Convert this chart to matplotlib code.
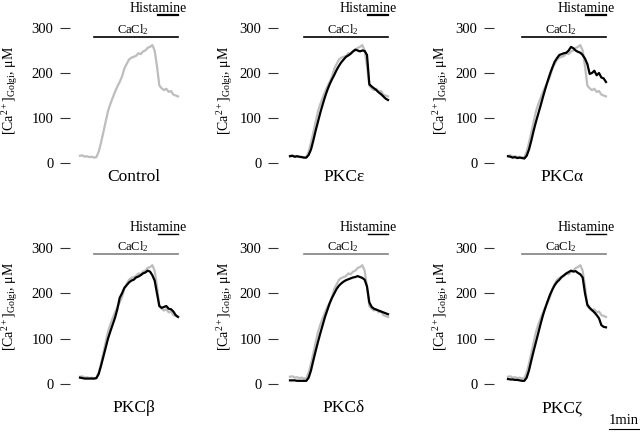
import numpy as np
import matplotlib
matplotlib.use('Agg')
import matplotlib.pyplot as plt

plt.rcParams['font.family'] = ['Liberation Serif', 'DejaVu Serif']
plt.rcParams['mathtext.fontset'] = 'custom'
plt.rcParams['mathtext.rm'] = 'Liberation Serif'
plt.rcParams['mathtext.it'] = 'Liberation Serif:italic'

# time in seconds, one sample every 5 s
t = np.arange(0, 215, 5)

# control trace (grey), same in every panel
control = [16, 17, 14, 15, 13, 14, 12, 13, 25, 45, 68, 92, 115, 131, 145, 158, 170, 180,
           192, 210, 220, 230, 234, 236, 238, 244, 242, 248, 250, 256, 258, 262, 250, 215,
           172, 166, 162, 165, 158, 160, 152, 150, 148]

titles = ['Control', 'PKCε', 'PKCα', 'PKCβ', 'PKCδ', 'PKCζ']

pkc_e = [15, 16, 14, 15, 14, 13, 12, 12, 18, 30, 50, 72, 92, 112, 130, 147, 162, 175, 186,
         196, 207, 216, 224, 230, 236, 239, 243, 248, 252, 250, 248, 250, 249, 240, 175, 170,
         166, 162, 157, 153, 148, 143, 140]
pkc_a = [15, 14, 12, 13, 11, 12, 11, 10, 16, 30, 50, 72, 92, 110, 128, 147, 165, 182, 198,
         212, 225, 233, 240, 242, 244, 245, 250, 258, 255, 250, 247, 245, 240, 232, 220, 198,
         200, 205, 195, 200, 190, 188, 180]
pkc_b = [14, 13, 12, 12, 12, 12, 12, 13, 22, 40, 60, 80, 100, 116, 131, 146, 165, 190, 200,
         212, 218, 224, 228, 230, 235, 237, 240, 244, 246, 250, 248, 240, 228, 200, 172, 168,
         170, 172, 166, 165, 160, 152, 148]
pkc_d = [8, 8, 8, 7, 7, 7, 7, 7, 14, 30, 52, 73, 93, 112, 130, 148, 163, 178, 190, 200, 210,
         217, 222, 226, 229, 231, 233, 235, 236, 238, 236, 234, 230, 215, 180, 170, 166, 164,
         162, 160, 158, 156, 154]
pkc_z = [11, 10, 10, 9, 9, 8, 7, 7, 14, 30, 52, 73, 93, 113, 133, 152, 168, 183, 197, 208,
         218, 225, 230, 236, 240, 244, 247, 250, 248, 249, 245, 242, 235, 200, 175, 168, 163,
         158, 152, 145, 130, 126, 125]
treated = [None, pkc_e, pkc_a, pkc_b, pkc_d, pkc_z]

yticks = [0, 100, 200, 300]
cacl_on, cacl_off = 30, 210
hist_on, hist_off = 167, 211

W, H = 640, 438
fig = plt.figure(figsize=(W / 100, H / 100), dpi=100)

x0s = [80, 290, 508]          # pixel where t=0 sits
tick_end = [70, 278, 494]     # right end of tick dashes
y0s = [163, 384]              # pixel of value 0
ppv = [0.45, 0.4533]          # pixels per unit value
pps = 98 / 210                # pixels per second
ylab_x = [10, 225, 441]
ylab_y = [90, 306]
title_y = [-31, -53]
bar_col = ['black', '#808080']

for i in range(6):
    r, c = divmod(i, 3)
    tmin = (tick_end[c] - x0s[c]) / pps
    tmax = 215
    vmin, vmax = -10, 310
    left = tick_end[c]
    right = x0s[c] + tmax * pps
    bottom = y0s[r] - vmin * ppv[r]
    top = y0s[r] - vmax * ppv[r]
    ax = fig.add_axes([left / W, 1 - bottom / H, (right - left) / W, (bottom - top) / H])
    ax.set_xlim(tmin, tmax)
    ax.set_ylim(vmin, vmax)
    for s in ax.spines.values():
        s.set_visible(False)
    ax.set_xticks([])
    ax.set_yticks(yticks)
    ax.tick_params(axis='y', length=7.5, width=0.8, pad=4.5, color='#333333',
                   labelsize=10.5)
    ax.patch.set_alpha(0)

    ax.plot(t, control, color='#bdbdbd', lw=1.6, clip_on=False)
    if treated[i] is not None:
        ax.plot(t, treated[i], color='black', lw=1.6, clip_on=False)

    # CaCl2 and histamine bars
    cb_v = 280 if r == 0 else 287
    ax.plot([cacl_on, cacl_off], [cb_v, cb_v], color=bar_col[r], lw=1.2, clip_on=False)
    ax.text((cacl_on + cacl_off) / 2 - 7, cb_v + 16, 'CaCl$_2$', ha='center', va='center',
            fontsize=9, clip_on=False)
    hb_v = 329 if r == 0 else 331
    ax.plot([hist_on, hist_off], [hb_v, hb_v], color='black', lw=1.6 if r == 0 else 1.0,
            clip_on=False)
    ax.text(hist_on + 1, hb_v + 14, 'Histamine', ha='center', va='center', fontsize=10,
            clip_on=False)

    ax.text(115, title_y[r], titles[i], ha='center', va='center', fontsize=12.5,
            clip_on=False)

    fig.text(ylab_x[c] / W, 1 - ylab_y[r] / H, '[Ca$^{2+}$]$_{\\mathrm{Golgi}}$, μM',
             rotation=90, ha='center', va='center', fontsize=10)

# 1 min scale bar
fig.text(624 / W, 1 - 421 / H, '1min', ha='center', va='center', fontsize=10.5)
fig.add_artist(plt.Line2D([609 / W, 639 / W], [1 - 429 / H, 1 - 429 / H], color='black',
                          lw=0.8))

fig.savefig('out.png', dpi=100)
